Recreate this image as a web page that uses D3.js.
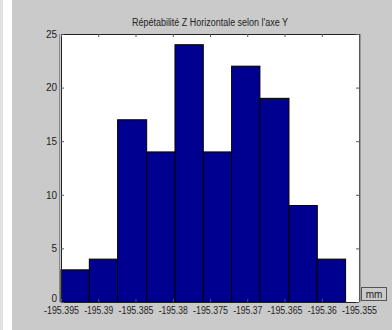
<!DOCTYPE html>
<html><head><meta charset="utf-8">
<script src="https://cdn.jsdelivr.net/npm/d3@7"></script>
<style>body{margin:0;background:#fff}svg{display:block}</style>
</head><body>
<script>
const title = "Répétabilité Z Horizontale selon l'axe Y";
const unitLabel = "mm";
const binLow  = [-195.3950,-195.3912,-195.3874,-195.3835,-195.3797,-195.3759,-195.3721,-195.3683,-195.3644,-195.3606];
const binHigh = [-195.3912,-195.3874,-195.3835,-195.3797,-195.3759,-195.3721,-195.3683,-195.3644,-195.3606,-195.3568];
const counts  = [3,4,17,14,24,14,22,19,9,4];
const xTicks = [-195.395,-195.39,-195.385,-195.38,-195.375,-195.37,-195.365,-195.36,-195.355];
const xTickLabels = ["-195.395","-195.39","-195.385","-195.38","-195.375","-195.37","-195.365","-195.36","-195.355"];
const yTicks = [0,5,10,15,20,25];

const W=392,H=330;
const m={left:61,right:359,top:34,bottom:302};
const font='"Liberation Sans Narrow","Arial Narrow","Liberation Sans",sans-serif';
const svg=d3.select("body").append("svg").attr("width",W).attr("height",H);
svg.append("rect").attr("x",0).attr("y",0).attr("width",W).attr("height",H).attr("fill","#fff");
svg.append("rect").attr("x",0).attr("y",0).attr("width",3).attr("height",H).attr("fill","#e2e2e2");
svg.append("rect").attr("x",12).attr("y",0).attr("width",W-12).attr("height",H).attr("fill","#cacaca");

const x=d3.scaleLinear().domain([-195.395,-195.355]).range([m.left,m.right]);
const y=d3.scaleLinear().domain([0,25]).range([m.bottom,m.top]);

svg.append("rect").attr("x",m.left).attr("y",m.top).attr("width",m.right-m.left).attr("height",m.bottom-m.top).attr("fill","#fff");

const data=counts.map((c,i)=>({c,lo:binLow[i],hi:binHigh[i]}));
svg.append("g").selectAll("rect").data(data).join("rect")
 .attr("x",d=>x(d.lo)).attr("y",d=>y(d.c))
 .attr("width",d=>x(d.hi)-x(d.lo)).attr("height",d=>y(0)-y(d.c))
 .attr("fill","#000090").attr("stroke","#000").attr("stroke-width",1);

// frame
const g=svg.append("g");
g.append("line").attr("x1",m.left).attr("x2",m.right).attr("y1",m.top+0.5).attr("y2",m.top+0.5).attr("stroke","#222");
g.append("line").attr("x1",m.left+0.5).attr("x2",m.left+0.5).attr("y1",m.top).attr("y2",m.bottom).attr("stroke","#222");
g.append("line").attr("x1",m.left-1.5).attr("x2",m.left-1.5).attr("y1",m.top).attr("y2",m.bottom).attr("stroke","#888");
g.append("line").attr("x1",m.right+0.5).attr("x2",m.right+0.5).attr("y1",m.top).attr("y2",m.bottom).attr("stroke","#555");
g.append("line").attr("x1",m.right+1.5).attr("x2",m.right+1.5).attr("y1",m.top).attr("y2",m.bottom).attr("stroke","#999");
g.append("line").attr("x1",m.left).attr("x2",m.right).attr("y1",m.bottom+0.5).attr("y2",m.bottom+0.5).attr("stroke","#222");

// ticks via axes
const xb=svg.append("g").attr("transform",`translate(0,${m.bottom})`)
 .call(d3.axisBottom(x).tickValues(xTicks).tickFormat((d,i)=>xTickLabels[i]).tickSizeInner(-3).tickSizeOuter(0).tickPadding(6));
const xt=svg.append("g").attr("transform",`translate(0,${m.top})`)
 .call(d3.axisTop(x).tickValues(xTicks).tickFormat("").tickSizeInner(-3).tickSizeOuter(0));
const yl=svg.append("g").attr("transform",`translate(${m.left},0)`)
 .call(d3.axisLeft(y).tickValues(yTicks).tickSizeInner(-3).tickSizeOuter(0).tickPadding(4));
const yr=svg.append("g").attr("transform",`translate(${m.right},0)`)
 .call(d3.axisRight(y).tickValues(yTicks).tickFormat("").tickSizeInner(-3).tickSizeOuter(0));
[xb,xt,yl,yr].forEach(a=>{a.select(".domain").remove();a.selectAll("line").attr("stroke","#555");});
xb.selectAll("text").attr("font-family",font).attr("font-size",10).attr("fill","#222").attr("dy","0.55em")
 .attr("textLength",35).attr("lengthAdjust","spacingAndGlyphs");
xb.selectAll("text").filter((d,i)=>xTickLabels[i].length<8).attr("textLength",29);
yl.selectAll("text").attr("font-family",font).attr("font-size",10).attr("fill","#222");
yl.selectAll("text").filter(d=>d===0).attr("dy","-0.05em");

// title
svg.append("text").attr("x",(m.left+m.right)/2).attr("y",26).attr("text-anchor","middle")
 .attr("font-family",font).attr("font-size",10).attr("fill","#222")
 .attr("textLength",156).attr("lengthAdjust","spacingAndGlyphs").text(title);

// unit box
svg.append("rect").attr("x",361.5).attr("y",287.5).attr("width",25).attr("height",13)
 .attr("fill","#cacaca").attr("stroke","#555");
svg.append("text").attr("x",374).attr("y",297.5).attr("text-anchor","middle")
 .attr("font-family",font).attr("font-size",10).attr("fill","#222").text(unitLabel);
</script>
</body></html>
